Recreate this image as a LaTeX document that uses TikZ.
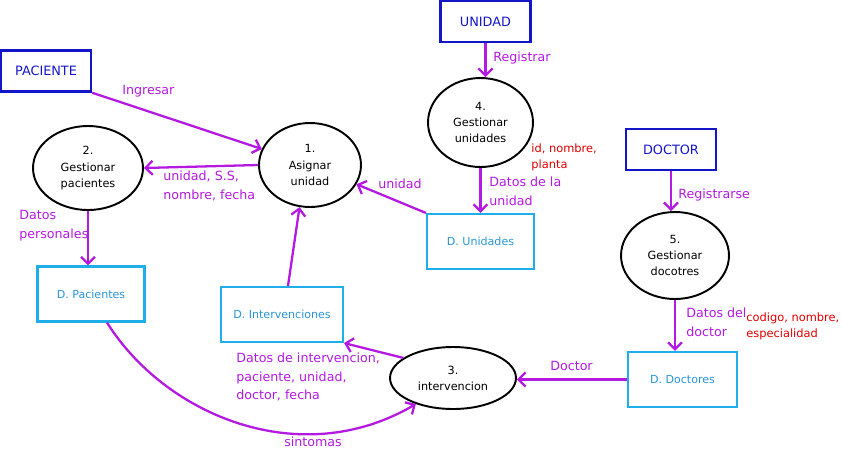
\documentclass[tikz,border=0pt]{standalone}
\usepackage{fontspec}
\setmainfont{DejaVu Sans}
\usetikzlibrary{positioning, shapes, shapes.geometric, arrows.meta, calc}
\definecolor{flujo}{RGB}{180,25,225}
\definecolor{entazul}{RGB}{20,20,200}
\definecolor{almcian}{RGB}{30,175,235}
\definecolor{almtexto}{RGB}{40,150,215}
\definecolor{rojo}{RGB}{225,0,0}
\tikzstyle{entidad} = [draw=entazul, line width=1.4pt, rectangle, text=entazul,
    minimum width=1.8cm, minimum height=0.82cm, font=\fontsize{7.3}{8}\selectfont]
\tikzstyle{almacen} = [draw=almcian, line width=1.2pt, rectangle, text=almtexto,
    minimum height=1.1cm, minimum width=2.14cm, font=\fontsize{6.3}{8}\selectfont]
\tikzstyle{proceso} = [draw, ellipse, line width=1.1pt, align=center, inner sep=0pt,
    font=\fontsize{6.4}{9.2}\selectfont]
\tikzstyle{flecha} = [draw=flujo, line width=1.3pt,
    -{Straight Barb[length=4pt,width=8pt]}]
\tikzstyle{etiqueta} = [text=flujo, anchor=west, align=left, inner sep=0pt,
    font=\fontsize{7.2}{10.6}\selectfont]
\tikzstyle{nota} = [text=rojo, anchor=west, align=left, inner sep=0pt,
    font=\fontsize{6.5}{9}\selectfont]

\begin{document}
\begin{tikzpicture}[x=0.02cm, y=-0.02cm]
    \useasboundingbox (0,0) rectangle (842,454);

    \node[entidad] (paciente) at (46,71) {PACIENTE};
    \node[entidad] (unidad) at (485.5,21.5) {UNIDAD};
    \node[entidad] (doctor) at (671,149.5) {DOCTOR};

    \node[proceso, minimum width=2.04cm, minimum height=1.68cm] (c1) at (310,165) {1.\\Asignar\\unidad};
    \node[proceso, minimum width=2.2cm, minimum height=1.68cm] (c2) at (88,168) {2.\\Gestionar\\pacientes};
    \node[proceso, minimum width=2.1cm, minimum height=1.78cm] (c4) at (480.5,122.5) {4.\\Gestionar\\unidades};
    \node[proceso, minimum width=2.16cm, minimum height=1.74cm] (c5) at (675,255.5) {5.\\Gestionar\\docotres};
    \node[proceso, minimum width=2.52cm, minimum height=1.24cm] (c3) at (453,378) {3.\\intervencion};

    \node[almacen] (duni) at (480.5,241.5) {D. Unidades};
    \node[almacen] (dpac) at (91,294) {D. Pacientes};
    \node[almacen, minimum width=2.44cm] (dint) at (282,314.5) {D. Intervenciones};
    \node[almacen, minimum width=2.18cm] (ddoc) at (682.5,379.5) {D. Doctores};

    \draw[flecha] (paciente.south east) -- (c1);
    \draw[flecha] (c1.west) -- (c2.east);
    \draw[flecha] (c2.south) -- (c2.south |- dpac.north);
    \draw[flecha] ($(dint.north)+(6,0)$) -- (c1.256);
    \draw[flecha] (duni.north west) -- (c1);
    \draw[flecha] (unidad.south) -- (unidad.south |- c4.north);
    \draw[flecha] (c4.south) -- (duni.north);
    \draw[flecha] (doctor.south) -- (doctor.south |- c5.north);
    \draw[flecha] (c5.south) -- (c5.south |- ddoc.north);
    \draw[flecha] (ddoc.west) -- (ddoc.west -| c3.east);
    \draw[flecha] (c3.158) -- (dint.south east);
    \draw[flecha] ($(dpac.south)+(16,0)$) .. controls (165,415) and (300,472) .. (c3.215);

    \node[etiqueta] (lingresar) at (122,91) {Ingresar};
    \node[etiqueta] (lunidadss) at (163,186) {unidad, S.S,\\nombre, fecha};
    \node[etiqueta] (lpersonales) at (19,226) {Datos\\personales};
    \node[etiqueta] (lunidad) at (378,184) {unidad};
    \node[etiqueta] (lregistrar) at (493,58) {Registrar};
    \node[etiqueta] (ldatosuni) at (489,191) {Datos de la\\unidad};
    \node[etiqueta] (lregistrarse) at (678,195) {Registrarse};
    \node[etiqueta] (ldatosdoc) at (686,322) {Datos del\\doctor};
    \node[etiqueta] (ldoctor) at (550,366) {Doctor};
    \node[etiqueta] (lintervencion) at (236,377) {Datos de intervencion,\\paciente, unidad,\\doctor, fecha};
    \node[etiqueta, anchor=center] (lsintomas) at (313,442) {sintomas};

    \node[nota] (ncamposuni) at (531,157) {id, nombre,\\planta};
    \node[nota] (ncamposdoc) at (746,326) {codigo, nombre,\\especialidad};
\end{tikzpicture}
\end{document}
